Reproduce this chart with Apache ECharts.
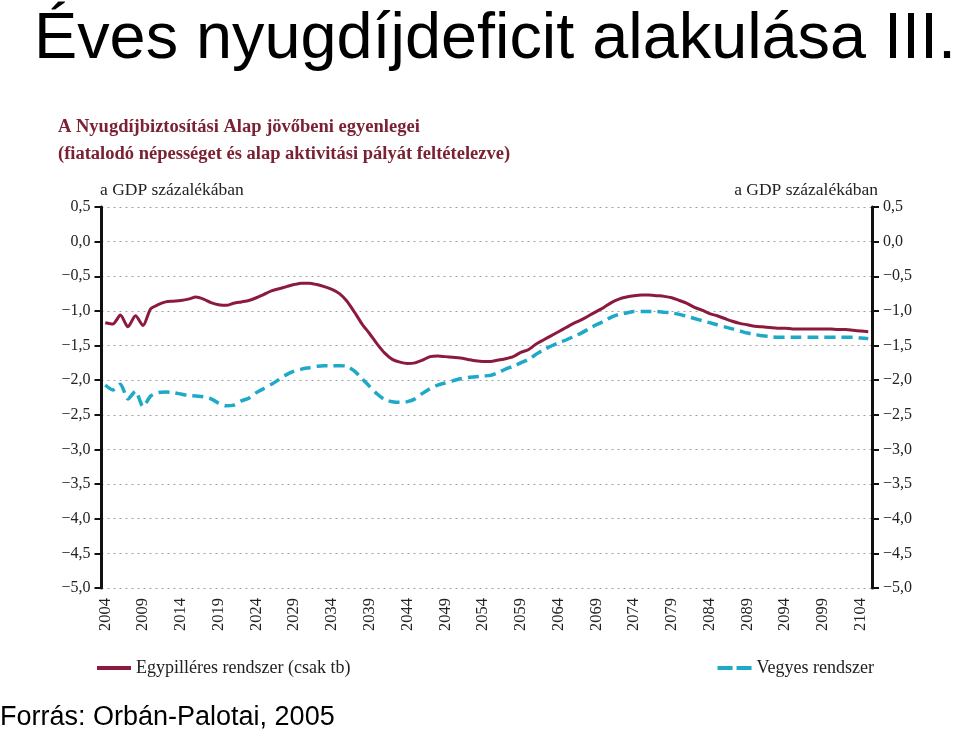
<!DOCTYPE html>
<html>
<head>
<meta charset="utf-8">
<script src="https://cdn.jsdelivr.net/npm/echarts@6/dist/echarts.min.js"></script>
<style>
html,body{margin:0;padding:0;background:#fff;}
#chart{width:959px;height:731px;}
</style>
</head>
<body>
<div id="chart"></div>
<script>
// ---- data ----
const years = [];
for (let y = 2004; y <= 2105; y++) years.push(String(y));

const egypilleres = [
 -1.17,-1.19,-1.06,-1.23,-1.07,-1.21,-0.97,-0.91,-0.87,-0.86,
 -0.85,-0.83,-0.80,-0.83,-0.88,-0.91,-0.92,-0.89,-0.87,-0.85,
 -0.81,-0.76,-0.71,-0.68,-0.65,-0.62,-0.60,-0.60,-0.62,-0.65,
 -0.69,-0.75,-0.86,-1.02,-1.19,-1.33,-1.48,-1.61,-1.70,-1.74,
 -1.76,-1.75,-1.71,-1.66,-1.65,-1.66,-1.67,-1.68,-1.70,-1.72,
 -1.73,-1.73,-1.71,-1.69,-1.66,-1.60,-1.56,-1.48,-1.42,-1.36,
 -1.30,-1.24,-1.18,-1.13,-1.07,-1.01,-0.95,-0.88,-0.83,-0.80,
 -0.78,-0.77,-0.77,-0.78,-0.79,-0.81,-0.85,-0.89,-0.95,-0.99,
 -1.04,-1.07,-1.11,-1.15,-1.18,-1.20,-1.22,-1.23,-1.24,-1.25,
 -1.25,-1.26,-1.26,-1.26,-1.26,-1.26,-1.26,-1.27,-1.27,-1.28,
 -1.29,-1.30
];

const vegyes = [
 -2.07,-2.14,-2.06,-2.27,-2.16,-2.38,-2.23,-2.18,-2.17,-2.18,
 -2.20,-2.22,-2.23,-2.24,-2.27,-2.33,-2.37,-2.36,-2.30,-2.26,
 -2.18,-2.12,-2.06,-1.99,-1.92,-1.87,-1.84,-1.82,-1.80,-1.79,
 -1.79,-1.79,-1.80,-1.87,-1.98,-2.09,-2.20,-2.28,-2.31,-2.32,
 -2.31,-2.27,-2.19,-2.12,-2.07,-2.04,-2.01,-1.98,-1.96,-1.95,
 -1.94,-1.93,-1.89,-1.84,-1.80,-1.75,-1.70,-1.63,-1.56,-1.51,
 -1.46,-1.42,-1.37,-1.32,-1.26,-1.20,-1.15,-1.09,-1.05,-1.03,
 -1.01,-1.01,-1.01,-1.01,-1.02,-1.03,-1.05,-1.08,-1.11,-1.14,
 -1.17,-1.20,-1.23,-1.26,-1.29,-1.32,-1.34,-1.36,-1.37,-1.38,
 -1.38,-1.38,-1.38,-1.38,-1.38,-1.38,-1.38,-1.38,-1.38,-1.38,
 -1.39,-1.40
];

const seriesNames = ['Egypilléres rendszer (csak tb)', 'Vegyes rendszer'];
const mainTitle = 'Éves nyugdíjdeficit alakulása III.';
const subTitle1 = 'A Nyugdíjbiztosítási Alap jövőbeni egyenlegei';
const subTitle2 = '(fiatalodó népességet és alap aktivitási pályát feltételezve)';
const unitLabel = 'a GDP százalékában';
const sourceText = 'Forrás: Orbán-Palotai, 2005';

// ---- chart ----
const RED = '#8c1a3c';
const BLUE = '#1ea9c8';
const SERIF = '"Liberation Serif", "DejaVu Serif", serif';
const SANS = '"Liberation Sans", Arial, sans-serif';

function fmt(v) {
  const s = Math.abs(v).toFixed(1).replace('.', ',');
  return v < -1e-9 ? '\u2212' + s : s;
}

const yAxisBase = {
  type: 'value', min: -5, max: 0.5, interval: 0.5,
  axisLine: { show: true, lineStyle: { color: '#111', width: 3 } },
  axisTick: { show: true, length: 7, lineStyle: { color: '#111', width: 2 } },
  axisLabel: { formatter: fmt, fontFamily: SERIF, fontSize: 16, color: '#222', margin: 11 },
  splitLine: { show: true, lineStyle: { color: '#a0a0a0', type: [2, 4], width: 1 } }
};

const chart = echarts.init(document.getElementById('chart'), null, { renderer: 'canvas' });
chart.setOption({
  animation: false,
  backgroundColor: '#fff',
  title: [
    { text: mainTitle, left: 34, top: 8, padding: 0,
      textStyle: { fontFamily: SANS, fontSize: 64.8, fontWeight: 'normal', color: '#000' } },
    { text: subTitle1, left: 58, top: 118, padding: 0,
      textStyle: { fontFamily: SERIF, fontSize: 18.5, fontWeight: 'bold', color: '#7a2233' } },
    { text: subTitle2, left: 58, top: 145, padding: 0,
      textStyle: { fontFamily: SERIF, fontSize: 18.5, fontWeight: 'bold', color: '#7a2233' } },
    { text: unitLabel, left: 100, top: 181, padding: 0,
      textStyle: { fontFamily: SERIF, fontSize: 17.5, fontWeight: 'normal', color: '#222' } },
    { text: unitLabel, right: 81, top: 181, padding: 0,
      textStyle: { fontFamily: SERIF, fontSize: 17.5, fontWeight: 'normal', color: '#222' } },
    { text: sourceText, left: 0, top: 704, padding: 0,
      textStyle: { fontFamily: SANS, fontSize: 27, fontWeight: 'normal', color: '#000' } }
  ],
  legend: [
    { data: [{ name: seriesNames[0], icon: 'path://M0,0h34v4h-34z' }],
      left: 97, top: 659, padding: 0, itemWidth: 34, itemHeight: 4, itemGap: 6,
      textStyle: { fontFamily: SERIF, fontSize: 18, color: '#222' } },
    { data: [{ name: seriesNames[1], icon: 'path://M0,0h15v4h-15z M19,0h15v4h-15z' }],
      right: 85, top: 659, padding: 0, itemWidth: 34, itemHeight: 4, itemGap: 6,
      textStyle: { fontFamily: SERIF, fontSize: 18, color: '#222' } }
  ],
  grid: { left: 101.5, right: 87, top: 207, bottom: 143, containLabel: false },
  xAxis: {
    type: 'category', data: years, boundaryGap: true,
    axisLine: { show: false }, axisTick: { show: false },
    axisLabel: { interval: 4, rotate: 90, fontFamily: SERIF, fontSize: 16.5, color: '#222', margin: 10 },
    splitLine: { show: false }
  },
  yAxis: [
    Object.assign({}, yAxisBase, { position: 'left' }),
    Object.assign({}, yAxisBase, { position: 'right', splitLine: { show: false } })
  ],
  series: [
    { name: seriesNames[0], type: 'line', data: egypilleres, yAxisIndex: 0,
      symbol: 'none', smooth: 0.25, color: RED,
      lineStyle: { color: RED, width: 3 } },
    { name: seriesNames[1], type: 'line', data: vegyes, yAxisIndex: 0,
      symbol: 'none', smooth: 0.25, color: BLUE,
      lineStyle: { color: BLUE, width: 3.5, type: [11, 6] } }
  ]
});
</script>
</body>
</html>
